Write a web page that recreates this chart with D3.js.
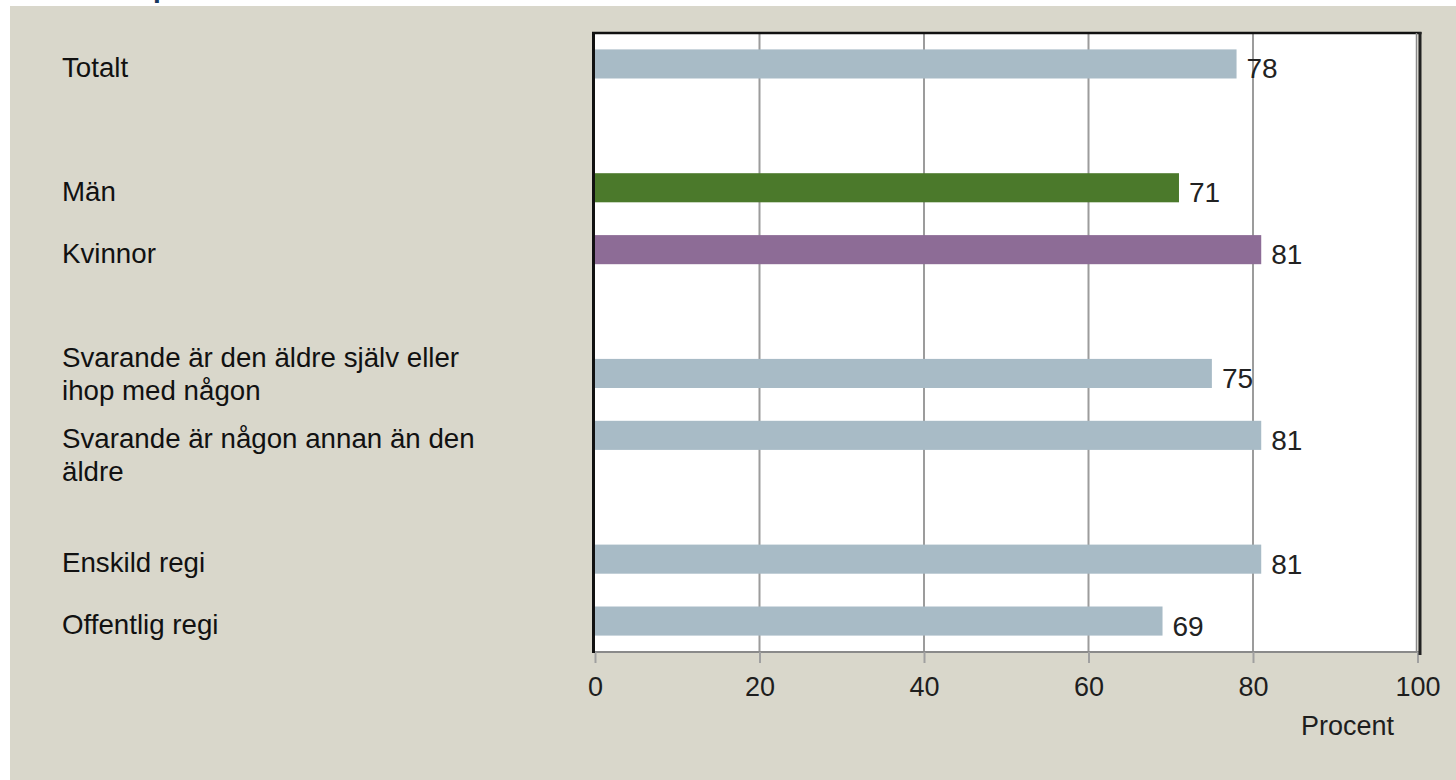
<!DOCTYPE html>
<html>
<head>
<meta charset="utf-8">
<script src="https://cdn.jsdelivr.net/npm/d3@7"></script>
<style>
  html, body { margin: 0; padding: 0; background: #ffffff; }
  svg { display: block; }
</style>
</head>
<body>
<svg id="chart" width="1456" height="780"></svg>
<script>
// ---- data ----
const categories = [
  "Totalt",
  "Män",
  "Kvinnor",
  "Svarande är den äldre själv eller\nihop med någon",
  "Svarande är någon annan än den\näldre",
  "Enskild regi",
  "Offentlig regi"
];
const values = [78, 71, 81, 75, 81, 81, 69];
const groups = [0, 1, 1, 2, 2, 3, 3];
const xTicks = [0, 20, 40, 60, 80, 100];
const axisTitle = "Procent";

// ---- styling / layout ----
const barColors = ["#a8bbc6", "#4b792b", "#8d6c96", "#a8bbc6", "#a8bbc6", "#a8bbc6", "#a8bbc6"];
const labelLineShift = [0, 0, 0, -0.58, 0, 0, 0];
const W = 1456, H = 780;
const plot = { left: 595, right: 1417.5, top: 33, bottom: 652 };
const nSlots = d3.max(categories.map((c, i) => i + groups[i])) + 1;

const svg = d3.select("#chart");

// background panel
svg.append("rect").attr("x", 0).attr("y", 0).attr("width", W).attr("height", H).attr("fill", "#ffffff");
svg.append("rect").attr("x", 10).attr("y", 6).attr("width", W - 10).attr("height", H - 6).attr("fill", "#d9d7cb");

// clipped title fragment above panel
svg.append("text").attr("x", 153).attr("y", -3)
  .attr("font-family", "Liberation Sans, Arial, sans-serif").attr("font-weight", "bold")
  .attr("font-size", 28).attr("fill", "#17375e").text("p");

const x = d3.scaleLinear().domain([0, 100]).range([plot.left, plot.right]);
const slots = d3.range(nSlots);
const y = d3.scaleBand().domain(slots).range([plot.top, plot.bottom])
  .paddingInner(0.53).paddingOuter(0.265);
const slotOf = i => i + groups[i];
const center = i => y(slotOf(i)) + y.bandwidth() / 2;

// plot background
svg.append("rect").attr("x", plot.left - 2).attr("y", plot.top)
  .attr("width", plot.right - plot.left + 2).attr("height", plot.bottom - plot.top)
  .attr("fill", "#ffffff");

// grid lines
const gridG = svg.append("g");
gridG.selectAll("line").data(xTicks.filter(t => t > 0 && t < 100)).join("line")
  .attr("x1", d => x(d)).attr("x2", d => x(d))
  .attr("y1", plot.top).attr("y2", plot.bottom)
  .attr("stroke", "#9c9c9c").attr("stroke-width", 2);

// bottom axis with ticks
const axis = d3.axisBottom(x).tickValues(xTicks).tickSize(11).tickPadding(14).tickFormat(d3.format("d"));
const axG = svg.append("g").attr("transform", `translate(0,${plot.bottom})`).call(axis);
axG.select(".domain").attr("stroke", "#8a8a8a").attr("stroke-width", 2)
  .attr("d", `M${plot.left - 2},0H${plot.right + 2}`);
axG.selectAll(".tick line").attr("stroke", "#a0a0a0").attr("stroke-width", 2);
axG.selectAll(".tick text")
  .attr("font-family", "Liberation Sans, Arial, sans-serif").attr("font-size", 27)
  .attr("fill", "#1e1e1e");

svg.append("text").attr("x", 1394).attr("y", 735).attr("text-anchor", "end")
  .attr("font-family", "Liberation Sans, Arial, sans-serif").attr("font-size", 27)
  .attr("fill", "#1e1e1e").text(axisTitle);

// bars
svg.append("g").selectAll("rect").data(values).join("rect")
  .attr("x", x(0))
  .attr("y", (d, i) => y(slotOf(i)))
  .attr("width", d => x(d) - x(0))
  .attr("height", y.bandwidth())
  .attr("fill", (d, i) => barColors[i]);

// value labels
svg.append("g").selectAll("text").data(values).join("text")
  .attr("x", d => x(d) + 10)
  .attr("y", (d, i) => center(i) + 14.5)
  .attr("font-family", "Liberation Sans, Arial, sans-serif").attr("font-size", 28)
  .attr("fill", "#222222").text(d => d);

// frame
const frame = svg.append("g");
frame.append("line").attr("x1", plot.left - 1.5).attr("x2", plot.left - 1.5)
  .attr("y1", plot.top - 1).attr("y2", plot.bottom + 1).attr("stroke", "#111").attr("stroke-width", 3);
frame.append("line").attr("x1", plot.left - 3).attr("x2", plot.right + 4)
  .attr("y1", plot.top).attr("y2", plot.top).attr("stroke", "#111").attr("stroke-width", 2.5);
frame.append("line").attr("x1", plot.right - 1).attr("x2", plot.right - 1)
  .attr("y1", plot.top).attr("y2", plot.bottom).attr("stroke", "#8a8a8a").attr("stroke-width", 1.5);
frame.append("line").attr("x1", plot.right + 2.5).attr("x2", plot.right + 2.5)
  .attr("y1", plot.top - 1).attr("y2", plot.bottom + 3).attr("stroke", "#222").attr("stroke-width", 3);

// category labels
const labG = svg.append("g");
categories.forEach((c, i) => {
  const lines = c.split("\n");
  const t = labG.append("text")
    .attr("font-family", "Liberation Sans, Arial, sans-serif").attr("font-size", 27.7)
    .attr("fill", "#111");
  lines.forEach((ln, k) => {
    t.append("tspan").attr("x", 62)
      .attr("y", center(i) + 13 + (k + labelLineShift[i]) * 33)
      .text(ln);
  });
});
</script>
</body>
</html>
